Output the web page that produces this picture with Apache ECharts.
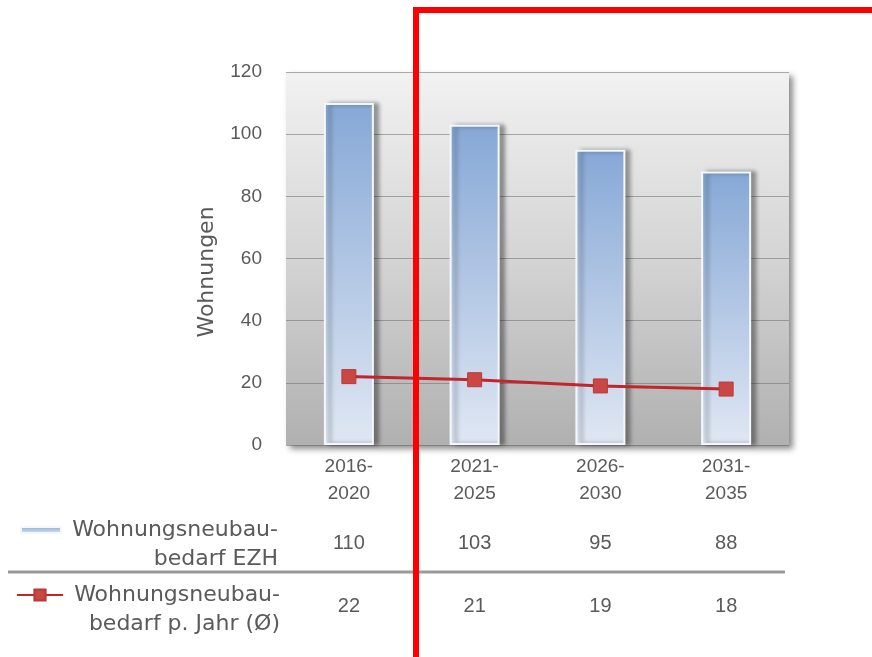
<!DOCTYPE html>
<html>
<head>
<meta charset="utf-8">
<script src="https://cdn.jsdelivr.net/npm/echarts@6/dist/echarts.min.js"></script>
<style>
html,body{margin:0;padding:0;background:#fff;}
#c{width:872px;height:657px;}
</style>
</head>
<body>
<div id="c"></div>
<script>
var categories = ['2016-\n2020', '2021-\n2025', '2026-\n2030', '2031-\n2035'];
var ezhName = 'Wohnungsneubau-bedarf EZH';
var jahrName = 'Wohnungsneubau-bedarf p. Jahr (Ø)';
var ezhValues = [110, 103, 95, 88];
var jahrValues = [22, 21, 19, 18];
var yTicks = {min: 0, max: 120, interval: 20};
var yTitle = 'Wohnungen';

var FONT = 'Liberation Sans';
var WIDE = 'DejaVu Sans';
var GRAY = '#5a5a5a';

var chart = echarts.init(document.getElementById('c'), null, {renderer: 'canvas'});

function legendFmt(name) {
  var i = name.indexOf('-');
  var l1 = name.slice(0, i + 1), l2 = name.slice(i + 1);
  return '{a| }\n{a|' + l1 + '}\n{a|' + l2 + '}';
}
var legendRich = {a: {width: 212, align: 'right', fontSize: 22, lineHeight: 29, color: GRAY, fontFamily: WIDE}};

var option = {
  backgroundColor: '#ffffff',
  animation: false,
  grid: {
    left: 286, right: 83, top: 72, bottom: 212,
    show: true,
    borderWidth: 0,
    backgroundColor: new echarts.graphic.LinearGradient(0, 0, 0, 1, [
      {offset: 0, color: '#f2f2f2'},
      {offset: 0.5, color: '#d4d4d4'},
      {offset: 1, color: '#b0b0b0'}
    ]),
    shadowColor: 'rgba(0,0,0,0.45)',
    shadowBlur: 6,
    shadowOffsetX: 4,
    shadowOffsetY: 4
  },
  legend: [
    {
      data: [ezhName], left: 20, top: 490, padding: 0,
      itemWidth: 40, itemHeight: 6, icon: 'rect',
      formatter: legendFmt,
      textStyle: {rich: legendRich}
    },
    {
      data: [jahrName], left: 16, top: 555, padding: 0,
      itemWidth: 46, itemHeight: 14,
      formatter: legendFmt,
      textStyle: {rich: legendRich}
    }
  ],
  xAxis: [
    {
      type: 'category', data: categories,
      axisLine: {show: false}, axisTick: {show: false},
      axisLabel: {color: GRAY, fontSize: 19, lineHeight: 27, fontFamily: FONT, margin: 8}
    },
    {
      type: 'category', data: categories, position: 'bottom', offset: 80,
      axisLine: {show: false}, axisTick: {show: false}, splitLine: {show: false},
      axisLabel: {color: GRAY, fontSize: 20, fontFamily: FONT, margin: 8,
        formatter: function (v, i) { return String(ezhValues[i]); }}
    },
    {
      type: 'category', data: categories, position: 'bottom', offset: 143,
      axisLine: {show: false}, axisTick: {show: false}, splitLine: {show: false},
      axisLabel: {color: GRAY, fontSize: 20, fontFamily: FONT, margin: 8,
        formatter: function (v, i) { return String(jahrValues[i]); }}
    }
  ],
  yAxis: {
    type: 'value', min: yTicks.min, max: yTicks.max, interval: yTicks.interval,
    name: yTitle, nameLocation: 'middle', nameRotate: 90, nameGap: 68,
    nameTextStyle: {color: GRAY, fontSize: 22, fontFamily: WIDE, padding: [0, 27, 0, 0]},
    axisLine: {show: false}, axisTick: {show: false},
    axisLabel: {color: GRAY, fontSize: 19, fontFamily: FONT, margin: 24},
    splitLine: {lineStyle: {color: 'rgba(110,110,110,0.55)', width: 1}}
  },
  series: [
    {
      name: ezhName, type: 'bar', data: ezhValues, barWidth: 50,
      itemStyle: {
        color: new echarts.graphic.LinearGradient(0, 0, 0, 1, [
          {offset: 0, color: '#86a8d6'},
          {offset: 1, color: '#e0e7f3'}
        ]),
        borderColor: '#f4f7fc', borderWidth: 2,
        shadowColor: 'rgba(0,0,0,0.35)', shadowBlur: 4, shadowOffsetX: 5, shadowOffsetY: 0
      },
      z: 2
    },
    {
      name: jahrName, type: 'line', data: jahrValues,
      symbol: 'rect', symbolSize: 14,
      lineStyle: {color: '#c1262c', width: 3},
      itemStyle: {color: '#c94843', borderColor: '#b83a36', borderWidth: 1},
      z: 5
    }
  ],
  graphic: [
    {
      type: 'line', z: 10,
      shape: {x1: 8, y1: 572, x2: 785, y2: 572},
      style: {stroke: '#9a9a9a', lineWidth: 3}
    },
    {
      type: 'rect', z: 100,
      shape: {x: 416, y: 10, width: 460, height: 700},
      style: {fill: 'none', stroke: '#ff0000', lineWidth: 6}
    }
  ]
};
chart.setOption(option);
</script>
</body>
</html>
